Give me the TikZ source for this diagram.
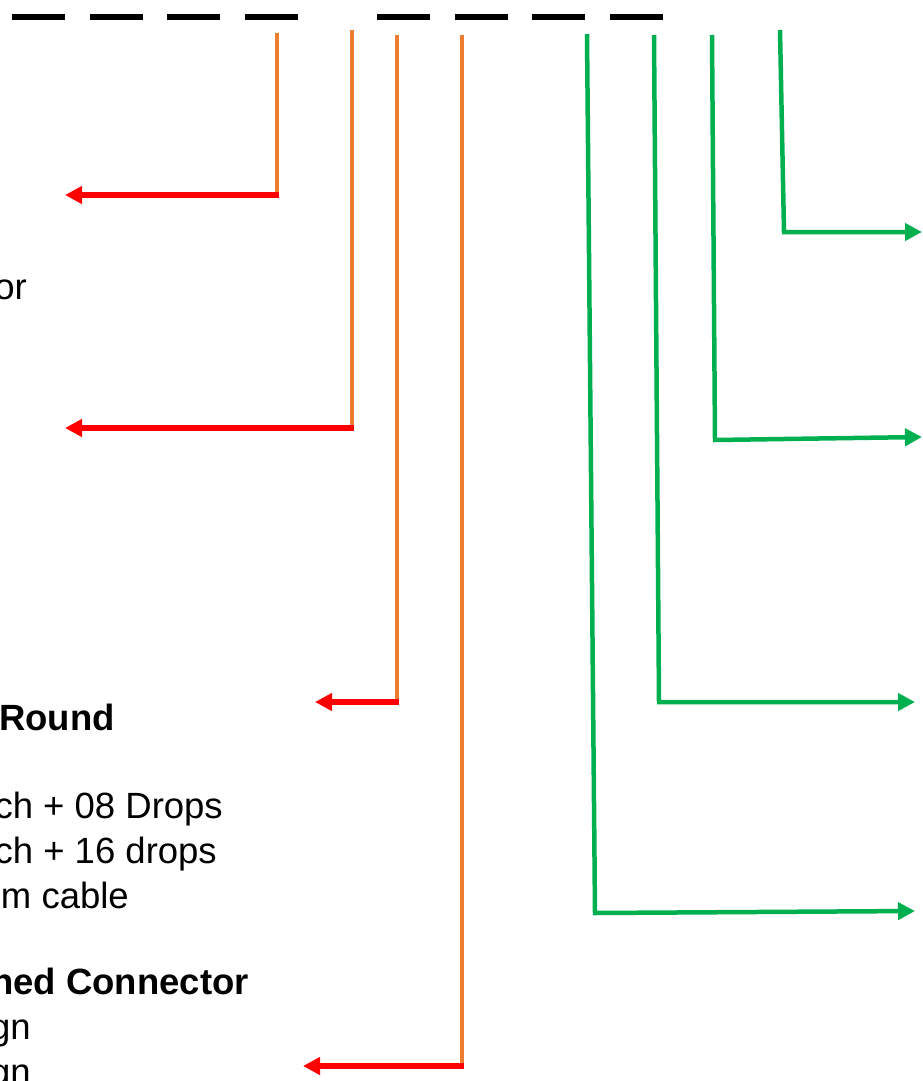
\documentclass[tikz,border=0pt]{standalone}
\usepackage{fontspec}
\setmainfont{Liberation Sans}
\usetikzlibrary{arrows.meta}
\definecolor{wireorange}{HTML}{ED7D31}
\definecolor{arrowred}{HTML}{FF0000}
\definecolor{wiregreen}{HTML}{00B050}
\tikzset{
  busline/.style={draw=black,line width=6pt,dash pattern=on 53pt off 24.5pt},
  orangewire/.style={draw=wireorange,line width=4.5pt},
  redarrow/.style={draw=arrowred,line width=5.5pt,-{Triangle[length=17pt,width=17pt]}},
  greenwire/.style={draw=wiregreen,line width=4.5pt,-{Triangle[length=17pt,width=17pt]}},
  sidetext/.style={anchor=base east,inner sep=0pt,font=\fontsize{36.5}{45}\selectfont}
}
\begin{document}
\begin{tikzpicture}[x=1pt,y=-1pt]
  \useasboundingbox (0,0) rectangle (923,1081);
  \clip (0,0) rectangle (923,1081);
  % bus
  \coordinate (busA) at (12,17);   \coordinate (busB) at (298,17);
  \coordinate (busC) at (377,17);  \coordinate (busD) at (664,17);
  \draw[busline] (busA) -- (busB);
  \draw[busline] (busC) -- (busD);
  % left drops
  \coordinate (o1) at (277,33);  \coordinate (o1c) at (277,195);  \coordinate (r1) at (65,195);
  \coordinate (o2) at (352,30);  \coordinate (o2c) at (352,428);  \coordinate (r2) at (65,428);
  \coordinate (o3) at (397,35);  \coordinate (o3c) at (397,702);  \coordinate (r3) at (315,702);
  \coordinate (o4) at (462,35);  \coordinate (o4c) at (462,1066); \coordinate (r4) at (303,1066);
  \draw[orangewire] (o1) -- (o1c);
  \draw[orangewire] (o2) -- (o2c);
  \draw[orangewire] (o3) -- (o3c);
  \draw[orangewire] (o4) -- (o4c);
  \draw[redarrow] ([xshift=2pt]o1c) -- (r1);
  \draw[redarrow] ([xshift=2pt]o2c) -- (r2);
  \draw[redarrow] ([xshift=2pt]o3c) -- (r3);
  \draw[redarrow] ([xshift=2pt]o4c) -- (r4);
  % right drops
  \coordinate (g1) at (587,34);  \coordinate (g1c) at (595,913);  \coordinate (e1) at (915,911);
  \coordinate (g2) at (654,35);  \coordinate (g2c) at (659,702);  \coordinate (e2) at (915,702);
  \coordinate (g3) at (712,35);  \coordinate (g3c) at (715,440);  \coordinate (e3) at (922,437);
  \coordinate (g4) at (780,30);  \coordinate (g4c) at (784,232);  \coordinate (e4) at (922,232);
  \draw[greenwire] (g1) -- (g1c) -- (e1);
  \draw[greenwire] (g2) -- (g2c) -- (e2);
  \draw[greenwire] (g3) -- (g3c) -- (e3);
  \draw[greenwire] (g4) -- (g4c) -- (e4);
  % texts
  \node[sidetext] (t1) at (27,299) {or};
  \node[sidetext] (t2) at (115,730) {\bfseries Round};
  \node[sidetext] (t3) at (223,818) {ch + 08 Drops};
  \node[sidetext] (t4) at (217,863) {ch + 16 drops};
  \node[sidetext] (t5) at (129,908) {m cable};
  \node[sidetext] (t6) at (249,994) {\bfseries hed Connector};
  \node[sidetext] (t7) at (31,1039) {gn};
  \node[sidetext] (t8) at (31,1084) {gn};
\end{tikzpicture}
\end{document}
